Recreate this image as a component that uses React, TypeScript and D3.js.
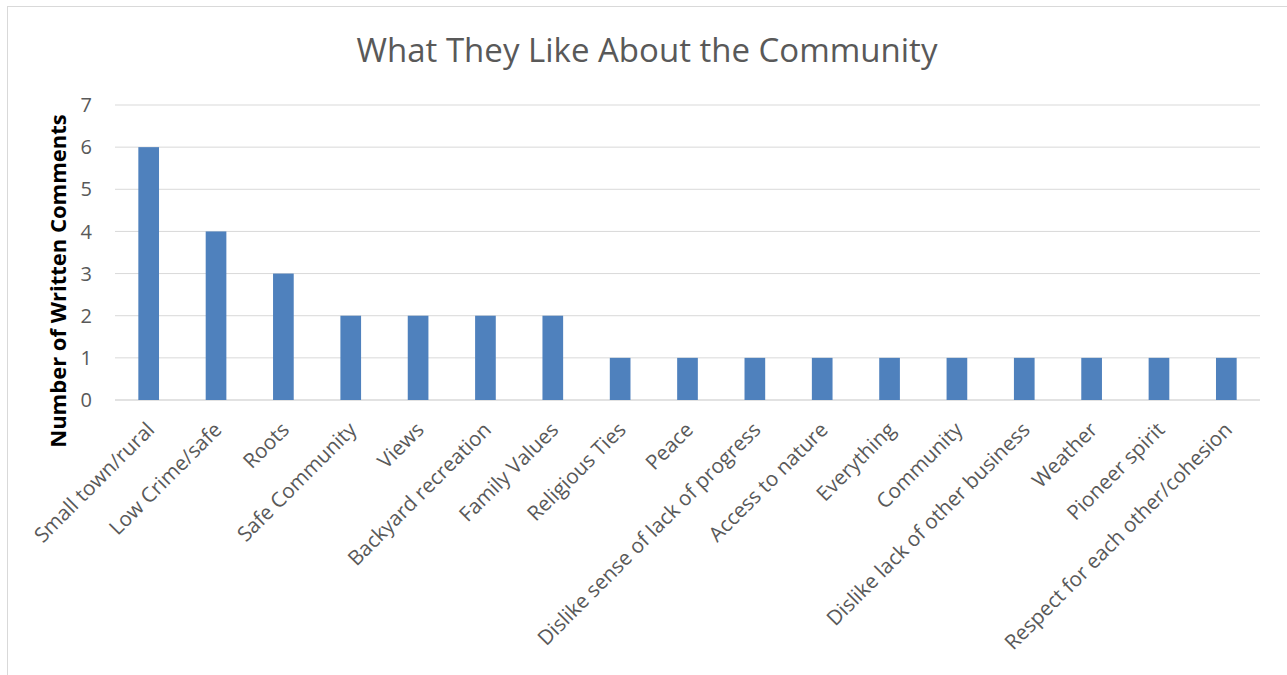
import React from "react";
import * as d3 from "d3";

const categories: string[] = [
  "Small town/rural",
  "Low Crime/safe",
  "Roots",
  "Safe Community",
  "Views",
  "Backyard recreation",
  "Family Values",
  "Religious Ties",
  "Peace",
  "Dislike sense of lack of progress",
  "Access to nature",
  "Everything",
  "Community",
  "Dislike lack of other business",
  "Weather",
  "Pioneer spirit",
  "Respect for each other/cohesion",
];
const counts: number[] = [6, 4, 3, 2, 2, 2, 2, 1, 1, 1, 1, 1, 1, 1, 1, 1, 1];
const yTicks: number[] = [0, 1, 2, 3, 4, 5, 6, 7];
const title = "What They Like About the Community";
const yTitle = "Number of Written Comments";

const W = 1287;
const H = 675;
const plot = { left: 115, right: 1260, top: 105, bottom: 400 };
const FONT = "'Open Sans', 'Segoe UI', sans-serif";

export default function App() {
  const x = d3
    .scaleBand<string>()
    .domain(categories)
    .range([plot.left, plot.right])
    .paddingInner(0.693)
    .paddingOuter(0.3465);
  const y = d3.scaleLinear().domain([0, 7]).range([plot.bottom, plot.top]);

  return (
    <svg
      width={W}
      height={H}
      style={{ position: "absolute", left: 0, top: 0, background: "#fff" }}
      fontFamily={FONT}
    >
      <rect x={7.5} y={6.5} width={W + 10} height={H + 10} fill="#fff" stroke="#d9d9d9" strokeWidth={1} />
      <text x={647} y={62} textAnchor="middle" fontSize={33} fill="#595959">
        {title}
      </text>
      {yTicks.map((t) => (
        <g key={t}>
          <line
            x1={plot.left}
            x2={plot.right}
            y1={y(t)}
            y2={y(t)}
            stroke="#d9d9d9"
            strokeWidth={t === 0 ? 1.5 : 1}
          />
          <text x={92} y={y(t)} dy="0.36em" textAnchor="end" fontSize={20} fill="#595959">
            {t}
          </text>
        </g>
      ))}
      {categories.map((c, i) => (
        <rect
          key={c}
          x={x(c)}
          y={y(counts[i])}
          width={x.bandwidth()}
          height={y(0) - y(counts[i])}
          fill="#4f81bd"
        />
      ))}
      {categories.map((c) => {
        const cx = (x(c) as number) + x.bandwidth() / 2;
        const ax = cx + 7;
        const ay = 431;
        return (
          <text
            key={c}
            x={ax}
            y={ay}
            textAnchor="end"
            fontSize={20.6}
            fill="#595959"
            transform={`rotate(-45 ${ax} ${ay})`}
          >
            {c}
          </text>
        );
      })}
      <text
        x={0}
        y={0}
        transform={`translate(66 281) rotate(-90)`}
        textAnchor="middle"
        fontSize={22}
        fontWeight="bold"
        fill="#000"
      >
        {yTitle}
      </text>
    </svg>
  );
}
